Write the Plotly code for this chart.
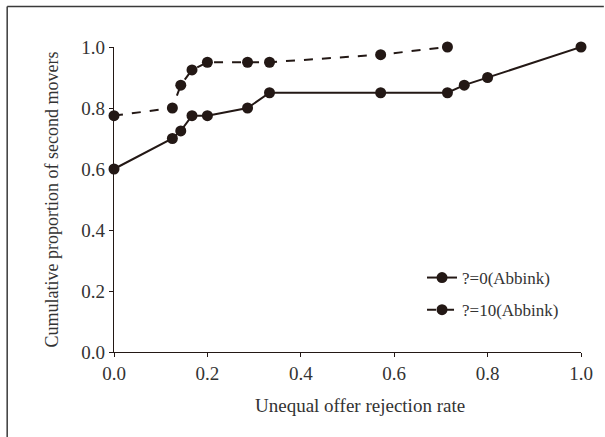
import plotly.graph_objects as go

x_a = [0.0, 0.125, 0.143, 0.167, 0.2, 0.286, 0.333, 0.571, 0.714, 0.75, 0.8, 1.0]
y_a = [0.6, 0.7, 0.725, 0.775, 0.775, 0.8, 0.85, 0.85, 0.85, 0.875, 0.9, 1.0]
x_b = [0.0, 0.125, 0.143, 0.167, 0.2, 0.286, 0.333, 0.571, 0.714]
y_b = [0.775, 0.8, 0.875, 0.925, 0.95, 0.95, 0.95, 0.975, 1.0]
name_a = "?=0(Abbink)"
name_b = "?=10(Abbink)"
ticks = [0.0, 0.2, 0.4, 0.6, 0.8, 1.0]
x_title = "Unequal offer rejection rate"
y_title = "Cumulative proportion of second movers"

ink = "#231815"
font = "Liberation Serif"

fig = go.Figure()
fig.add_trace(go.Scatter(x=x_a, y=y_a, name=name_a, mode="lines+markers",
                         line=dict(color=ink, width=2),
                         marker=dict(color=ink, size=11),
                         cliponaxis=False, legendgroup="a"))
fig.add_trace(go.Scatter(x=x_b, y=y_b, name=name_b, mode="lines+markers",
                         line=dict(color=ink, width=2, dash="dash"),
                         marker=dict(color=ink, size=11),
                         cliponaxis=False, legendgroup="b"))

L, R, T, B = 114, 21, 47, 85
W, H = 605, 437
pw, ph = W - L - R, H - T - B

def px_x(X):
    return (X - L) / pw

def px_y(Y):
    return (H - B - Y) / ph

fig.update_layout(
    width=W, height=H,
    margin=dict(l=L, r=R, t=T, b=B),
    paper_bgcolor="white", plot_bgcolor="white",
    font=dict(family=font, color="#333333", size=18),
    showlegend=True,
    legend=dict(x=px_x(424), y=px_y(260), xanchor="left", yanchor="top",
                font=dict(size=17, family=font, color="#333333"),
                bgcolor="rgba(0,0,0,0)", tracegroupgap=7,
                traceorder="grouped"),
    xaxis=dict(range=[0, 1], tickvals=ticks, tickformat=".1f",
               showgrid=False, zeroline=False, showline=True,
               linecolor=ink, linewidth=1.2, ticks="outside", ticklen=4,
               tickcolor=ink, tickfont=dict(size=19)),
    yaxis=dict(range=[0, 1], tickvals=ticks, tickformat=".1f",
               showgrid=False, zeroline=False, showline=True,
               linecolor=ink, linewidth=1.2, ticks="outside", ticklen=4,
               tickcolor=ink, tickfont=dict(size=19),
               title=dict(text=y_title, font=dict(size=18), standoff=18)),
    annotations=[
        dict(text=x_title, xref="paper", yref="paper",
             x=px_x(362), y=px_y(405), xanchor="center", yanchor="middle",
             showarrow=False, font=dict(size=19, family=font, color="#333333")),
    ],
    shapes=[
        dict(type="line", xref="paper", yref="paper",
             x0=px_x(6.5), x1=px_x(6.5), y0=px_y(6.5), y1=px_y(H + 2),
             line=dict(color="#3a3a3a", width=1.5)),
        dict(type="line", xref="paper", yref="paper",
             x0=px_x(6.5), x1=px_x(W + 2), y0=px_y(6.5), y1=px_y(6.5),
             line=dict(color="#3a3a3a", width=1.5)),
    ],
)

fig.write_html("out.html")
